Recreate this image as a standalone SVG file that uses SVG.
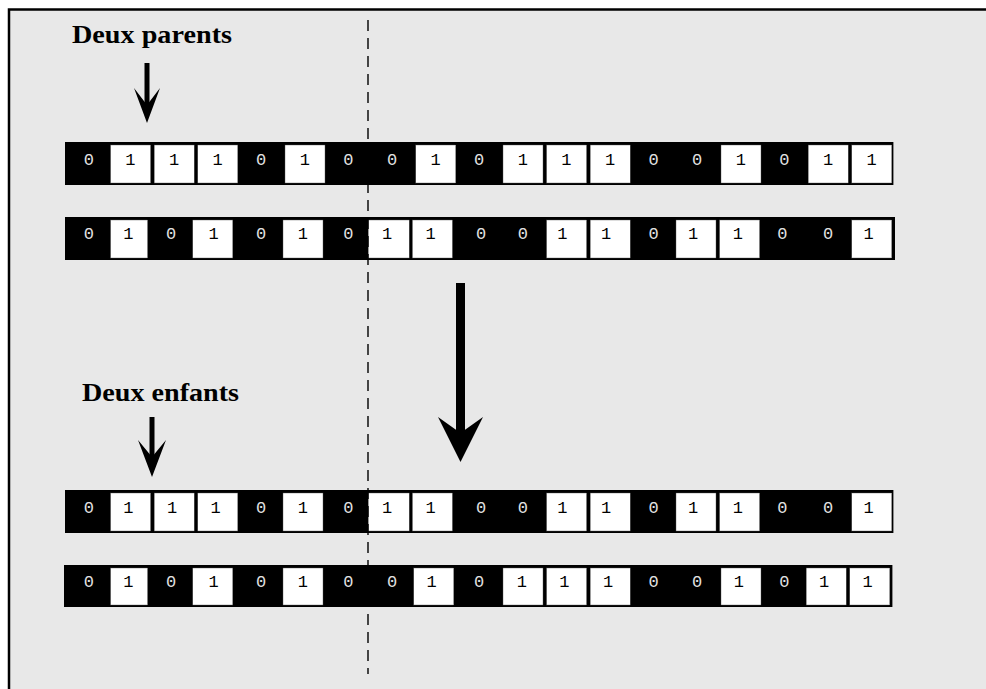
<svg xmlns="http://www.w3.org/2000/svg" width="986" height="689" viewBox="0 0 986 689">
<style>
.bar{fill:#000}
.w{fill:#fff;stroke:#555;stroke-width:0.4}
.d{font-family:"Liberation Mono",monospace;font-size:17px;text-anchor:middle}
.d0{fill:#e2e2e2}
.d1{fill:#000}
.lbl{font-family:"Liberation Serif","Times New Roman",serif;font-weight:bold;font-size:25px;fill:#000}
.arr{fill:#000}
.cut{stroke:#000;stroke-width:1.4;stroke-dasharray:11 7;fill:none}
</style>
<rect x="0" y="0" width="986" height="689" fill="#fff"/>
<rect id="frame" x="9" y="9.5" width="1000" height="700" fill="#e8e8e8" stroke="#000" stroke-width="2.5"/>

<g id="label-parents"><text class="lbl" x="72" y="43" textLength="160" lengthAdjust="spacingAndGlyphs">Deux parents</text></g>
<g id="label-enfants"><text class="lbl" x="82" y="401" textLength="157" lengthAdjust="spacingAndGlyphs">Deux enfants</text></g>

<g id="parent1" transform="translate(0,142)">
<rect class="bar" x="65" y="0" width="828.4" height="43"/>
<rect class="w" x="110.6" y="3" width="40" height="38"/>
<rect class="w" x="154.2" y="3" width="40" height="38"/>
<rect class="w" x="197.8" y="3" width="40" height="38"/>
<rect class="w" x="285" y="3" width="40" height="38"/>
<rect class="w" x="415.8" y="3" width="40" height="38"/>
<rect class="w" x="503" y="3" width="40" height="38"/>
<rect class="w" x="546.6" y="3" width="40" height="38"/>
<rect class="w" x="590.2" y="3" width="40" height="38"/>
<rect class="w" x="721" y="3" width="40" height="38"/>
<rect class="w" x="808.2" y="3" width="40" height="38"/>
<rect class="w" x="851.8" y="3" width="40" height="38"/>
<text class="d d0" x="88.8" y="23">0</text>
<text class="d d1" x="130.4" y="23">1</text>
<text class="d d1" x="174" y="23">1</text>
<text class="d d1" x="217.6" y="23">1</text>
<text class="d d0" x="261.2" y="23">0</text>
<text class="d d1" x="304.8" y="23">1</text>
<text class="d d0" x="348.4" y="23">0</text>
<text class="d d0" x="392" y="23">0</text>
<text class="d d1" x="435.6" y="23">1</text>
<text class="d d0" x="479.2" y="23">0</text>
<text class="d d1" x="522.8" y="23">1</text>
<text class="d d1" x="566.4" y="23">1</text>
<text class="d d1" x="610" y="23">1</text>
<text class="d d0" x="653.6" y="23">0</text>
<text class="d d0" x="697.2" y="23">0</text>
<text class="d d1" x="740.8" y="23">1</text>
<text class="d d0" x="784.4" y="23">0</text>
<text class="d d1" x="828" y="23">1</text>
<text class="d d1" x="871.6" y="23">1</text>
</g>

<g id="parent2" transform="translate(0,217)">
<rect class="bar" x="65" y="0" width="830" height="43"/>
<rect class="w" x="110.6" y="3" width="37" height="38"/>
<rect class="w" x="192.8" y="3" width="40" height="38"/>
<rect class="w" x="283" y="3" width="40" height="38"/>
<rect class="w" x="368.2" y="3" width="41" height="38"/>
<rect class="w" x="412.4" y="3" width="40" height="38"/>
<rect class="w" x="546.6" y="3" width="40" height="38"/>
<rect class="w" x="590.2" y="3" width="40" height="38"/>
<rect class="w" x="676" y="3" width="40" height="38"/>
<rect class="w" x="719.6" y="3" width="40" height="38"/>
<rect class="w" x="851.8" y="3" width="40" height="38"/>
<text class="d d0" x="88.8" y="22">0</text>
<text class="d d1" x="128.4" y="22">1</text>
<text class="d d0" x="171" y="22">0</text>
<text class="d d1" x="213.6" y="22">1</text>
<text class="d d0" x="261.2" y="22">0</text>
<text class="d d1" x="302.8" y="22">1</text>
<text class="d d0" x="348.4" y="22">0</text>
<text class="d d1" x="387" y="22">1</text>
<text class="d d1" x="430.6" y="22">1</text>
<text class="d d0" x="481.2" y="22">0</text>
<text class="d d0" x="522.8" y="22">0</text>
<text class="d d1" x="562.4" y="22">1</text>
<text class="d d1" x="606" y="22">1</text>
<text class="d d0" x="653.6" y="22">0</text>
<text class="d d1" x="693.2" y="22">1</text>
<text class="d d1" x="737.8" y="22">1</text>
<text class="d d0" x="782.4" y="22">0</text>
<text class="d d0" x="828" y="22">0</text>
<text class="d d1" x="868.6" y="22">1</text>
</g>

<g id="child1" transform="translate(0,490)">
<rect class="bar" x="65" y="0" width="828.4" height="43"/>
<rect class="w" x="110.6" y="3" width="40" height="38"/>
<rect class="w" x="154.2" y="3" width="40" height="38"/>
<rect class="w" x="197.8" y="3" width="40" height="38"/>
<rect class="w" x="283" y="3" width="40" height="38"/>
<rect class="w" x="368.2" y="3" width="41" height="38"/>
<rect class="w" x="412.4" y="3" width="40" height="38"/>
<rect class="w" x="546.6" y="3" width="40" height="38"/>
<rect class="w" x="590.2" y="3" width="40" height="38"/>
<rect class="w" x="676" y="3" width="40" height="38"/>
<rect class="w" x="719.6" y="3" width="40" height="38"/>
<rect class="w" x="851.8" y="3" width="40" height="38"/>
<text class="d d0" x="88.8" y="23">0</text>
<text class="d d1" x="128.4" y="23">1</text>
<text class="d d1" x="172" y="23">1</text>
<text class="d d1" x="215.6" y="23">1</text>
<text class="d d0" x="261.2" y="23">0</text>
<text class="d d1" x="302.8" y="23">1</text>
<text class="d d0" x="348.4" y="23">0</text>
<text class="d d1" x="387" y="23">1</text>
<text class="d d1" x="430.6" y="23">1</text>
<text class="d d0" x="481.2" y="23">0</text>
<text class="d d0" x="522.8" y="23">0</text>
<text class="d d1" x="562.4" y="23">1</text>
<text class="d d1" x="606" y="23">1</text>
<text class="d d0" x="653.6" y="23">0</text>
<text class="d d1" x="693.2" y="23">1</text>
<text class="d d1" x="737.8" y="23">1</text>
<text class="d d0" x="782.4" y="23">0</text>
<text class="d d0" x="828" y="23">0</text>
<text class="d d1" x="868.6" y="23">1</text>
</g>

<g id="child2" transform="translate(0,565)">
<rect class="bar" x="64" y="0" width="828.4" height="42"/>
<rect class="w" x="110.6" y="3" width="37" height="37"/>
<rect class="w" x="192.8" y="3" width="40" height="37"/>
<rect class="w" x="283" y="3" width="40" height="37"/>
<rect class="w" x="413.8" y="3" width="40" height="37"/>
<rect class="w" x="503" y="3" width="40" height="37"/>
<rect class="w" x="546.6" y="3" width="40" height="37"/>
<rect class="w" x="590.2" y="3" width="40" height="37"/>
<rect class="w" x="721" y="3" width="40" height="37"/>
<rect class="w" x="806.2" y="3" width="40" height="37"/>
<rect class="w" x="849.8" y="3" width="40" height="37"/>
<text class="d d0" x="88.8" y="22">0</text>
<text class="d d1" x="128.4" y="22">1</text>
<text class="d d0" x="171" y="22">0</text>
<text class="d d1" x="213.6" y="22">1</text>
<text class="d d0" x="261.2" y="22">0</text>
<text class="d d1" x="302.8" y="22">1</text>
<text class="d d0" x="348.4" y="22">0</text>
<text class="d d0" x="392" y="22">0</text>
<text class="d d1" x="431.6" y="22">1</text>
<text class="d d0" x="479.2" y="22">0</text>
<text class="d d1" x="521.8" y="22">1</text>
<text class="d d1" x="564.4" y="22">1</text>
<text class="d d1" x="608" y="22">1</text>
<text class="d d0" x="653.6" y="22">0</text>
<text class="d d0" x="697.2" y="22">0</text>
<text class="d d1" x="738.8" y="22">1</text>
<text class="d d0" x="784.4" y="22">0</text>
<text class="d d1" x="824" y="22">1</text>
<text class="d d1" x="867.6" y="22">1</text>
</g>

<g id="connectors">
<line class="cut" x1="368" y1="20" x2="368" y2="674"/>
<g id="arrow-parents" class="arr">
<rect x="144.5" y="63" width="5" height="45"/>
<path d="M134,88 L147,123 L160,88 L147,105 Z"/>
</g>
<g id="arrow-enfants" class="arr">
<rect x="149.5" y="417" width="5" height="42"/>
<path d="M138,440 L152,477 L166,440 L152,457 Z"/>
</g>
<g id="arrow-crossover" class="arr">
<rect x="456" y="283" width="9" height="152"/>
<path d="M438,417 L460.5,462 L483,417 L460.5,433 Z"/>
</g>
</g>
</svg>
